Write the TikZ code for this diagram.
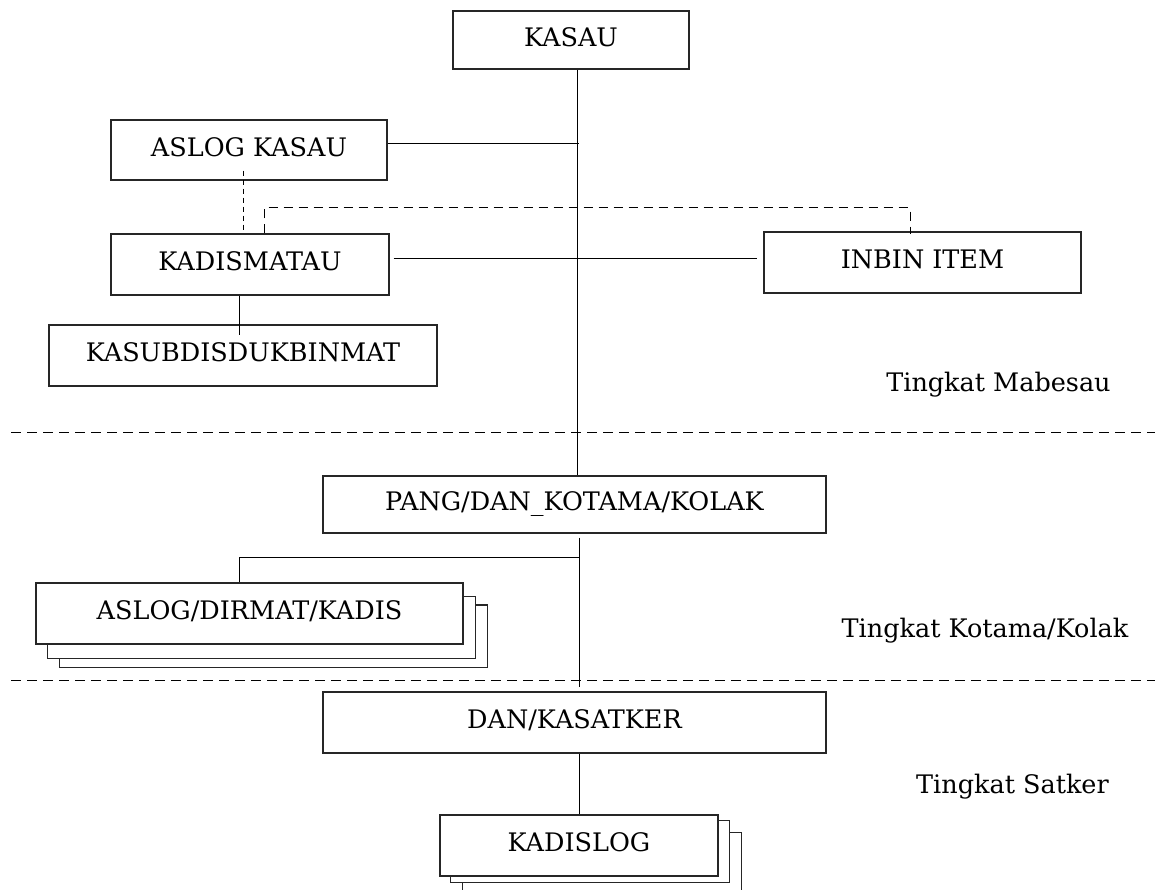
\documentclass[tikz,border=0pt]{standalone}
\usepackage{fontspec}
\setmainfont{DejaVu Serif}
\usetikzlibrary{calc}
\pgfdeclarelayer{background}
\pgfsetlayers{background,main}
\begin{document}
\begin{tikzpicture}[x=1pt,y=-1pt,
  box/.style={draw=black!85, line width=1.2pt, fill=white, inner sep=0pt,
    text height=18.5pt, text depth=6pt, font=\fontsize{25.5}{30}\selectfont},
  shadowbox/.style={draw=black!85, line width=1.2pt, fill=white},
  conn/.style={line width=1pt, draw=black},
  dashline/.style={dash pattern=on 9pt off 6pt},
  shortdash/.style={dash pattern=on 5pt off 4pt},
  sepline/.style={line width=1pt, dash pattern=on 10pt off 6pt},
  lvl/.style={font=\fontsize{25.5}{30}\selectfont, inner sep=0pt, anchor=base}]
\path[use as bounding box] (0,0) rectangle (1155,890);

% boxes
\node[box, minimum width=236, minimum height=58] (kasau) at (571,40) {KASAU};
\node[box, minimum width=276, minimum height=60] (aslog) at (249,150) {ASLOG KASAU};
\node[box, minimum width=278, minimum height=61] (kadis) at (250,264.5) {KADISMATAU};
\node[box, minimum width=388, minimum height=61] (kasub) at (243,355.5) {KASUBDISDUKBINMAT};
\node[box, minimum width=317, minimum height=61] (inbin) at (922.5,262.5) {INBIN ITEM};
\node[box, minimum width=503, minimum height=57] (pang) at (574.5,504.5) {PANG/DAN\_KOTAMA/KOLAK};
\node[box, minimum width=427, minimum height=61] (aslog2) at (249.5,613.5) {ASLOG/DIRMAT/KADIS};
\node[box, minimum width=503, minimum height=61] (dan) at (574.5,722.5) {DAN/KASATKER};
\node[box, minimum width=278, minimum height=61] (kadislog) at (579,845.5) {KADISLOG};

% stacked copies
\begin{pgfonlayer}{background}
  \draw[shadowbox] ($(aslog2.north west)+(24,22.5)$) rectangle ($(aslog2.south east)+(24,22.5)$);
  \draw[shadowbox] ($(aslog2.north west)+(12,14)$) rectangle ($(aslog2.south east)+(12,14)$);
  \draw[shadowbox] ($(kadislog.north west)+(23,18)$) rectangle ($(kadislog.south east)+(23,18)$);
  \draw[shadowbox] ($(kadislog.north west)+(11,6)$) rectangle ($(kadislog.south east)+(11,6)$);
\end{pgfonlayer}

% level labels
\node[lvl] (lv1) at (998.5,391) {Tingkat Mabesau};
\node[lvl] (lv2) at (985,637) {Tingkat Kotama/Kolak};
\node[lvl] (lv3) at (1012.5,793) {Tingkat Satker};

% separators
\draw[sepline] (11,432) -- (1155,432);
\draw[sepline] (11,680) -- (1155,680);

% connectors
\coordinate (mx) at (577,0);
\coordinate (mx2) at (579,0);
\coordinate (dy) at (0,208);
\coordinate (by) at (0,557);

\draw[conn] (kasau.south -| mx) -- (pang.north -| mx);
\draw[conn] ($(aslog.east)+(0,-6)$) -- ($(aslog.east -| mx)+(2,-6)$);
\draw[conn, shortdash] ($(aslog.south)+(-6,-10)$) -- ($(aslog.south |- kadis.north)+(-6,-2)$);
\draw[conn, dashline] ($(kadis.north)+(14,0)$) -- ($(kadis.north |- dy)+(14,0)$) -| ($(inbin.north)+(-12.5,3)$);
\draw[conn] ($(kadis.east)+(4,-5.5)$) -- ($(inbin.west)+(-6,-3.5)$);
\draw[conn] ($(kadis.south)+(-11,0)$) -- ($(kasub.north)+(-4,11)$);
\draw[conn] ($(pang.south -| mx2)+(0,4)$) -- ($(dan.north -| mx2)+(0,-4)$);
\draw[conn] (by -| mx2) -| ($(aslog2.north)+(-10.5,0)$);
\draw[conn] (dan.south -| kadislog.north) -- (kadislog.north);
\end{tikzpicture}
\end{document}
